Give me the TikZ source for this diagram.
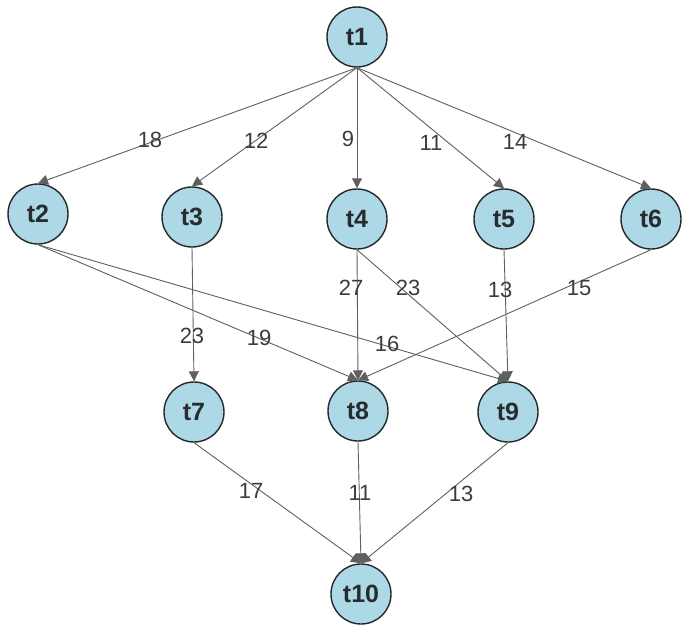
\documentclass[tikz,border=0pt]{standalone}
\usepackage{fontspec}
\setmainfont{Liberation Sans}
\usetikzlibrary{arrows.meta}
\definecolor{nodefill}{RGB}{173,216,230}
\definecolor{nodeline}{RGB}{34,40,44}
\definecolor{nodetext}{RGB}{40,44,48}
\definecolor{edgecol}{RGB}{95,95,95}
\definecolor{lblcol}{RGB}{60,60,60}
\begin{document}
\begin{tikzpicture}[x=1pt,y=-1pt,
  task/.style={circle, draw=nodeline, fill=nodefill, line width=1.4pt,
    minimum size=60pt, inner sep=0pt,
    font=\fontsize{25}{25}\selectfont\bfseries, text=nodetext},
  dep/.style={draw=edgecol, line width=0.9pt,
    -{Triangle[length=10pt,width=10pt]}},
  wt/.style={font=\fontsize{22}{22}\selectfont, text=lblcol, inner sep=0pt}]
\useasboundingbox (0,0) rectangle (685,632);

\node[task] (t1)  at (357,37)  {t1};
\node[task] (t2)  at (38,214)  {t2};
\node[task] (t3)  at (192,217) {t3};
\node[task] (t4)  at (357,219) {t4};
\node[task] (t5)  at (504,219) {t5};
\node[task] (t6)  at (651,219) {t6};
\node[task] (t7)  at (194,412) {t7};
\node[task] (t8)  at (358,411) {t8};
\node[task] (t9)  at (508,412) {t9};
\node[task] (t10) at (361,594) {t10};

\draw[dep] (t1.south) -- (t2.north) node[wt] (w12) at (150,140) {18};
\draw[dep] (t1.south) -- (t3.north) node[wt] (w13) at (256,141) {12};
\draw[dep] (t1.south) -- (t4.north) node[wt] (w14) at (348,139) {9};
\draw[dep] (t1.south) -- (t5.north) node[wt] (w15) at (431,143) {11};
\draw[dep] (t1.south) -- (t6.north) node[wt] (w16) at (515,142) {14};

\draw[dep] (t2.south) -- (t8.north) node[wt] (w28) at (259,338) {19};
\draw[dep] (t2.south) -- (t9.north) node[wt] (w29) at (387,344) {16};
\draw[dep] (t3.south) -- (t7.north) node[wt] (w37) at (192,336) {23};
\draw[dep] (t4.south) -- (t8.north) node[wt] (w48) at (351,288) {27};
\draw[dep] (t4.south) -- (t9.north) node[wt] (w49) at (408,288) {23};
\draw[dep] (t5.south) -- (t9.north) node[wt] (w59) at (500,290) {13};
\draw[dep] (t6.south) -- (t8.north) node[wt] (w68) at (579,288) {15};

\draw[dep] (t7.south) -- (t10.north) node[wt] (w710) at (251,491) {17};
\draw[dep] (t8.south) -- (t10.north) node[wt] (w810) at (360,493) {11};
\draw[dep] (t9.south) -- (t10.north) node[wt] (w910) at (461,494) {13};
\end{tikzpicture}
\end{document}
